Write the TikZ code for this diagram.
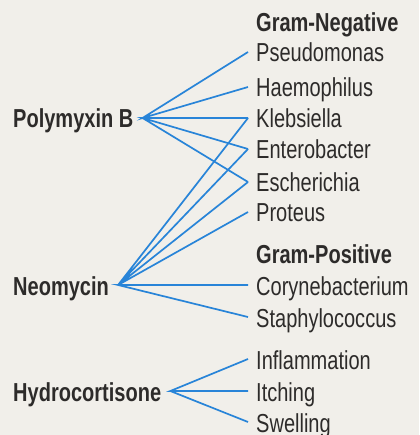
\documentclass[tikz,border=0pt]{standalone}
\usepackage{fontspec}
\setmainfont{Liberation Sans}[FakeStretch=0.77]
\usepackage{xcolor}
\usepackage{tikz}
\definecolor{paper}{RGB}{241,239,234}
\definecolor{ink}{RGB}{45,43,42}
\definecolor{linkblue}{RGB}{40,132,216}

\begin{document}
\begin{tikzpicture}[
  x=1pt, y=-1pt,
  every node/.style={
    text=ink,
    font=\fontsize{26}{30}\selectfont,
    text height=20pt,
    text depth=0pt,
    inner ysep=0pt
  },
  drug/.style={anchor=west, inner xsep=9pt, font=\fontsize{26}{30}\selectfont\bfseries},
  organism/.style={anchor=west, inner xsep=8pt},
  heading/.style={organism, font=\fontsize{26}{30}\selectfont\bfseries},
  link/.style={draw=linkblue, line width=1.7pt, line join=miter}
]
\fill[paper] (0,0) rectangle (419,435);
\useasboundingbox (0,0) rectangle (419,435);

\node[drug] (polymyxin) at (4,118) {Polymyxin B};
\node[drug] (neomycin) at (4,285) {Neomycin};
\node[drug] (hydrocort) at (4,391) {Hydrocortisone};

\node[heading] (gramneg) at (248,22) {Gram-Negative};
\node[organism] (pseudo) at (248,52) {Pseudomonas};
\node[organism] (haemo) at (248,87) {Haemophilus};
\node[organism] (klebs) at (248,118) {Klebsiella};
\node[organism] (entero) at (248,149) {Enterobacter};
\node[organism] (escher) at (248,182) {Escherichia};
\node[organism] (proteus) at (248,212) {Proteus};
\node[heading] (grampos) at (248,253) {Gram-Positive};
\node[organism] (coryne) at (248,285) {Corynebacterium};
\node[organism] (staph) at (248,317) {Staphylococcus};
\node[organism] (inflam) at (248,359) {Inflammation};
\node[organism] (itch) at (248,391) {Itching};
\node[organism] (swell) at (248,422) {Swelling};

\draw[link] (pseudo.west) -- (polymyxin.east) -- (haemo.west)
  (klebs.west) -- (polymyxin.east) -- (entero.west)
  (polymyxin.east) -- (escher.west);
\draw[link] (klebs.west) -- (neomycin.east) -- (entero.west)
  (escher.west) -- (neomycin.east) -- (proteus.west)
  (coryne.west) -- (neomycin.east) -- (staph.west);
\draw[link] (inflam.west) -- (hydrocort.east) -- (itch.west)
  (hydrocort.east) -- (swell.west);
\end{tikzpicture}
\end{document}
